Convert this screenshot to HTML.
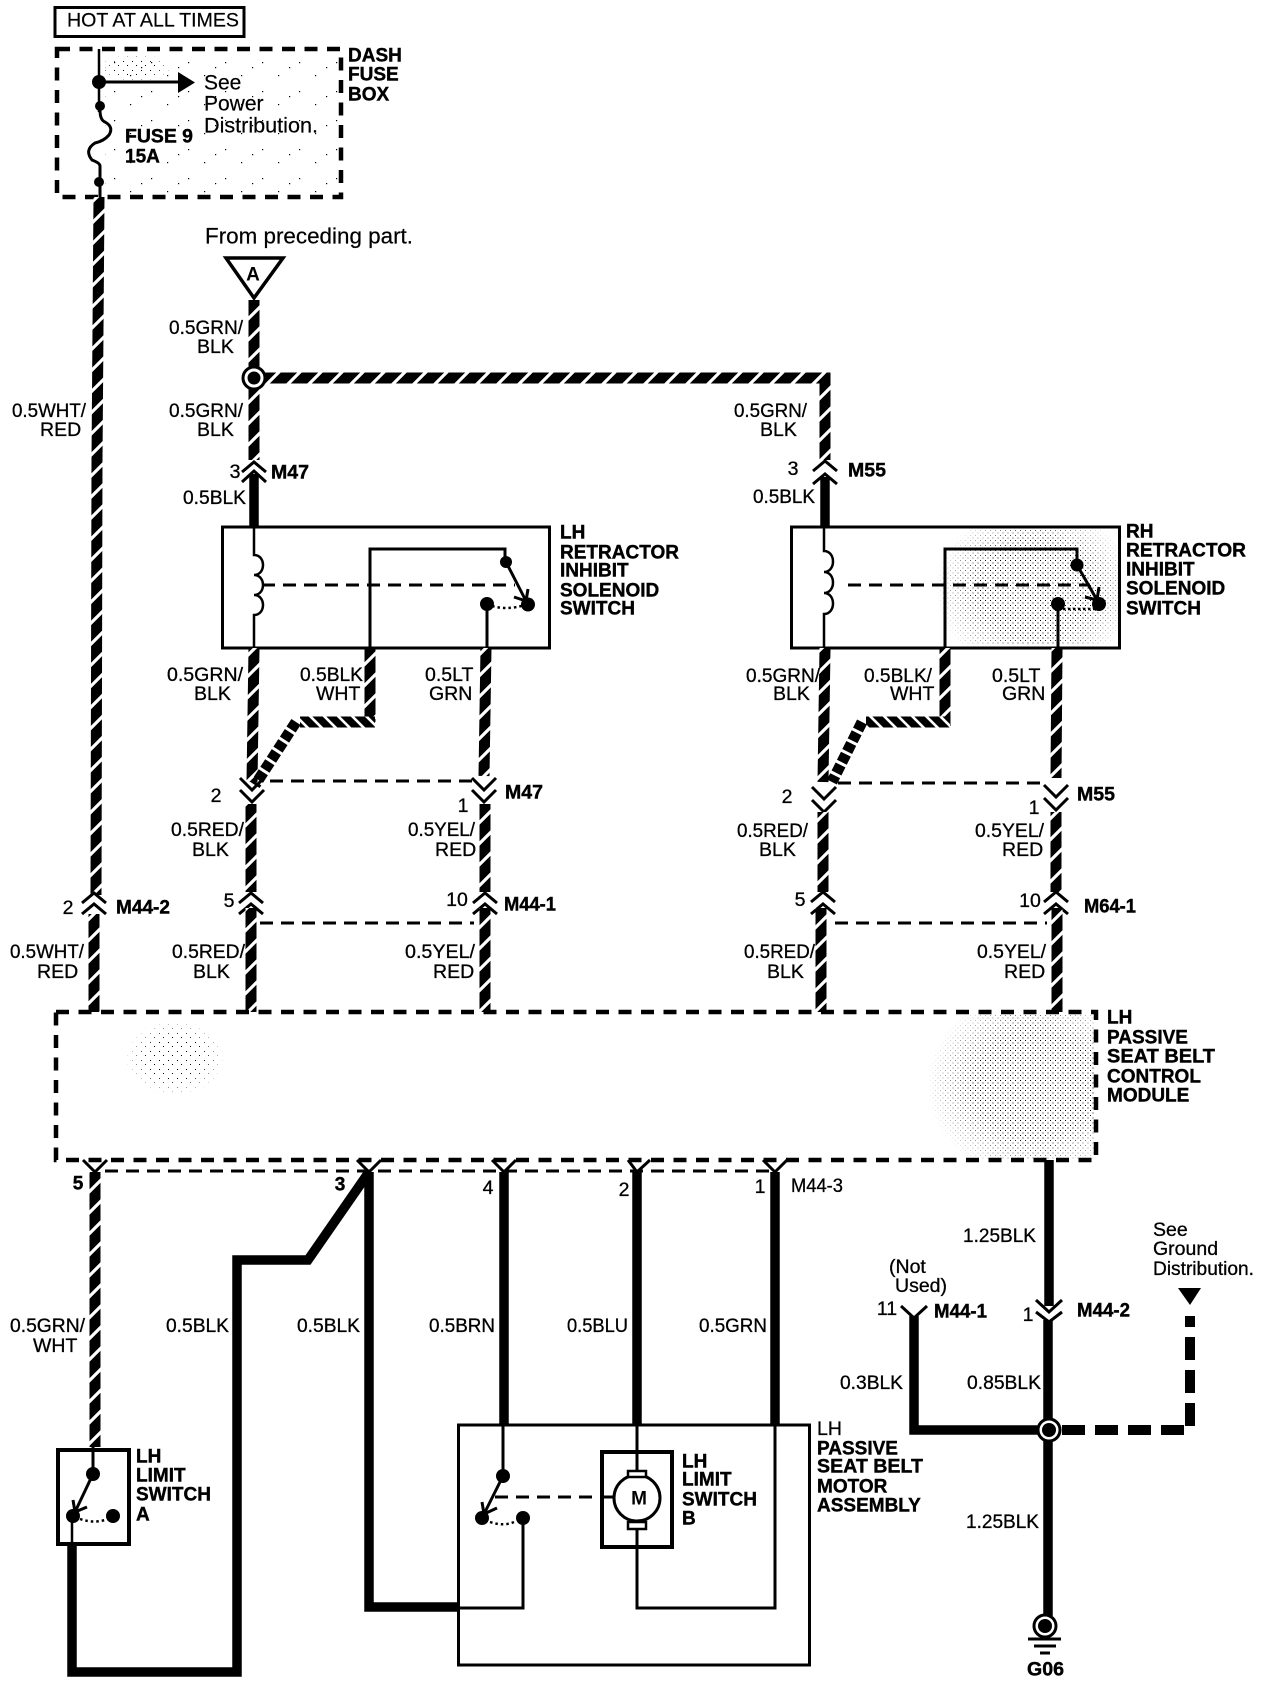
<!DOCTYPE html>
<html><head><meta charset="utf-8"><title>Wiring diagram</title>
<style>
html,body{margin:0;padding:0;background:#fff}
svg{display:block}
text{font-family:"Liberation Sans",sans-serif;dominant-baseline:central;fill:#000}
.n{font-size:19.5px;stroke:#000;stroke-width:.3}
.b{font-size:19px;font-weight:bold;stroke:#000;stroke-width:.4}
.t{font-size:21px;stroke:#000;stroke-width:.2}
.w{fill:none;stroke:#000;stroke-width:3}
.th{fill:none;stroke:#000;stroke-width:2.5}
.tw{fill:none;stroke:url(#tw);stroke-width:11}
.tw2{fill:none;stroke:url(#tw2);stroke-width:11}
.s{fill:none;stroke:#000;stroke-width:9.5}
.c{fill:none;stroke:#000;stroke-width:3}
.d{fill:none;stroke:#000;stroke-width:3;stroke-dasharray:13 8}
.bd{fill:none;stroke:#000;stroke-width:4.5;stroke-dasharray:13 9.5}
</style></head><body>
<svg width="1280" height="1684" viewBox="0 0 1280 1684" xmlns="http://www.w3.org/2000/svg">
<defs>
<pattern id="tw" width="21" height="21" patternUnits="userSpaceOnUse">
<rect width="21" height="21" fill="#000"/>
<path d="M-5 26L26 -5M-5 5L5 -5M16 26L26 16" stroke="#fff" stroke-width="3.2"/>
</pattern>
<pattern id="tw2" width="14" height="14" patternUnits="userSpaceOnUse">
<rect width="14" height="14" fill="#000"/>
<path d="M-4 -4L18 18M-4 10L4 18M10 -4L18 4" stroke="#fff" stroke-width="2.6"/>
</pattern>
<pattern id="st" width="5" height="5" patternUnits="userSpaceOnUse">
<rect x="0" y="0" width="1" height="1" fill="#000"/><rect x="2.500" y="2.500" width="1" height="1" fill="#000"/>
</pattern>
<pattern id="st2" width="37" height="29" patternUnits="userSpaceOnUse">
<rect x="3" y="4" width="1.200" height="1.200" fill="#000"/><rect x="19" y="17" width="1.200" height="1.200" fill="#000"/><rect x="30" y="9" width="1.200" height="1.200" fill="#000"/>
</pattern>
<pattern id="st3" width="9" height="9" patternUnits="userSpaceOnUse">
<rect x="1" y="2" width="1" height="1" fill="#000"/><rect x="6" y="7" width="1" height="1" fill="#000"/>
</pattern>
<radialGradient id="fade"><stop offset="0" stop-color="#fff"/><stop offset=".55" stop-color="#fff"/><stop offset="1" stop-color="#000"/></radialGradient>
<mask id="m1" maskUnits="userSpaceOnUse" x="0" y="0" width="1280" height="1684">
<ellipse cx="1035" cy="1085" rx="108" ry="95" fill="url(#fade)"/>
<ellipse cx="1035" cy="590" rx="100" ry="85" fill="url(#fade)"/>
<ellipse cx="175" cy="1058" rx="50" ry="38" fill="url(#fade)"/>
<ellipse cx="135" cy="68" rx="38" ry="14" fill="url(#fade)"/>
</mask>
</defs>
<rect width="1280" height="1684" fill="#fff"/>

<!-- stipple -->
<rect x="930" y="1014" width="165" height="145" fill="url(#st)" mask="url(#m1)"/>
<rect x="930" y="528" width="188" height="117" fill="url(#st)" mask="url(#m1)"/>
<rect x="125" y="1020" width="100" height="75" fill="url(#st3)" mask="url(#m1)"/>
<rect x="105" y="55" width="235" height="140" fill="url(#st2)"/>
<rect x="100" y="55" width="70" height="25" fill="url(#st3)" mask="url(#m1)"/>

<!-- hot box -->
<rect x="55" y="7.5" width="189" height="29" class="w"/>
<text x="67" y="21" font-size="19" textLength="172" lengthAdjust="spacingAndGlyphs" stroke="#000" stroke-width=".2">HOT AT ALL TIMES</text>

<!-- dash fuse box -->
<path d="M57 49H341V197H57Z" class="bd"/>
<path d="M99 49V112" class="th" stroke-width="3"/>
<circle cx="99" cy="82" r="7"/><circle cx="100" cy="106" r="5"/><circle cx="99" cy="182" r="5"/>
<path d="M99 82H180" class="w"/><path d="M178 72L195 82.5L178 93Z"/>
<path d="M100 110Q100 120 105 122Q114 127 109 135Q104 141 95 143Q84 150 92 160Q100 163 100 166V197" class="w"/>
<text x="204" y="83" class="t">See</text><text x="204" y="104" class="t">Power</text>
<text x="204" y="126" class="t" textLength="114" lengthAdjust="spacingAndGlyphs">Distribution.</text>
<text x="125" y="137" class="b" textLength="68" lengthAdjust="spacingAndGlyphs">FUSE 9</text><text x="125" y="157" class="b">15A</text>
<text x="348" y="56" class="b">DASH</text><text x="348" y="75" class="b">FUSE</text><text x="348" y="95" class="b">BOX</text>

<!-- left main wire -->
<path d="M99 197L97 460L96 895" class="tw"/>
<path d="M94 914V1012" class="tw"/>
<path d="M95 1172V1447" class="tw"/>

<!-- from preceding -->
<text x="205" y="236" font-size="22" textLength="208" lengthAdjust="spacingAndGlyphs" stroke="#000" stroke-width=".2">From preceding part.</text>
<path d="M226 258H283L254 298Z" fill="#fff" stroke="#000" stroke-width="3.5"/>
<text x="253" y="275" text-anchor="middle" font-size="19" font-weight="bold">A</text>
<path d="M254 300V460" class="tw"/>
<path d="M265 378H825V460" class="tw"/>
<circle cx="254" cy="378" r="11" fill="#fff" stroke="#000" stroke-width="3"/><circle cx="254" cy="378" r="6.5"/>

<!-- labels upper -->
<text x="169" y="328" class="n" textLength="74" lengthAdjust="spacingAndGlyphs">0.5GRN/</text><text x="197" y="347" class="n">BLK</text>
<text x="169" y="411" class="n" textLength="74" lengthAdjust="spacingAndGlyphs">0.5GRN/</text><text x="197" y="430" class="n">BLK</text>
<text x="183" y="498" class="n" textLength="63" lengthAdjust="spacingAndGlyphs">0.5BLK</text>
<text x="12" y="411" class="n" textLength="74" lengthAdjust="spacingAndGlyphs">0.5WHT/</text><text x="40" y="430" class="n">RED</text>
<text x="734" y="411" class="n" textLength="73" lengthAdjust="spacingAndGlyphs">0.5GRN/</text><text x="760" y="430" class="n">BLK</text>
<text x="753" y="497" class="n" textLength="62" lengthAdjust="spacingAndGlyphs">0.5BLK</text>

<!-- M47 / M55 top connectors -->
<path d="M242 472L254 462L266 472M242 482L254 471L266 482" class="c"/>
<path d="M254 474V527" class="s" stroke-width="11"/>
<path d="M813 471L825 461L837 471M813 484L825 474L837 484" class="c"/>
<path d="M825 477V527" class="s" stroke-width="11"/>
<text x="235" y="472" class="n" text-anchor="middle">3</text><text x="271" y="473" class="b" font-size="17" textLength="38" lengthAdjust="spacingAndGlyphs">M47</text>
<text x="793" y="469" class="n" text-anchor="middle">3</text><text x="848" y="471" class="b" font-size="17" textLength="38" lengthAdjust="spacingAndGlyphs">M55</text>

<!-- LH switch -->
<rect x="222.500" y="527" width="327" height="121" class="w" stroke-width="3.500"/>
<path d="M254 527V555c12 0 12 20 0 20c12 0 12 20 0 20c12 0 12 20 0 20V648" class="th"/>
<path d="M262 585H515" class="d"/>
<path d="M370 648V549H505V562" class="w"/>
<circle cx="506" cy="562" r="6"/><circle cx="528" cy="604.500" r="7"/><circle cx="487" cy="604" r="7"/>
<path d="M506 562L526 601M526 601L528 589M526 601L514 597" class="w"/>
<path d="M487 604Q505 612 528 604" fill="none" stroke="#000" stroke-width="2.500" stroke-dasharray="2.500 3"/>
<path d="M487 604V648" class="w"/>
<text x="560" y="533" class="b">LH</text><text x="560" y="553" class="b" textLength="119" lengthAdjust="spacingAndGlyphs">RETRACTOR</text><text x="560" y="571" class="b">INHIBIT</text><text x="560" y="591" class="b">SOLENOID</text><text x="560" y="609" class="b">SWITCH</text>

<!-- LH wires -->
<path d="M254 648L252 782" class="tw"/>
<path d="M370 648V722" class="tw"/>
<path d="M375 722H300" class="tw2"/>
<path d="M296 722L255 785" fill="none" stroke="#000" stroke-width="11" stroke-dasharray="9 3"/>
<path d="M486 648L484 776" class="tw"/>
<path d="M270 781H472" class="d"/>
<path d="M240 778L252 790L264 778M240 790L252 802L264 790" class="c"/>
<path d="M472 778L484 790L496 778M472 790L484 802L496 790" class="c"/>
<path d="M251 804V892" class="tw"/><path d="M485 804V892" class="tw"/>
<path d="M239 903L251 893L263 903M239 914L251 904L263 914" class="c"/>
<path d="M473 903L485 893L497 903M473 914L485 904L497 914" class="c"/>
<path d="M82 903L94 893L106 903M82 914L94 904L106 914" class="c"/>
<path d="M251 908V1012" class="tw"/><path d="M485 908V1012" class="tw"/>
<path d="M260 923H474" class="d"/>

<!-- LH lower labels -->
<text x="167" y="675" class="n" textLength="76" lengthAdjust="spacingAndGlyphs">0.5GRN/</text><text x="194" y="694" class="n">BLK</text>
<text x="300" y="675" class="n" textLength="63" lengthAdjust="spacingAndGlyphs">0.5BLK</text><text x="316" y="694" class="n">WHT</text>
<text x="425" y="675" class="n">0.5LT</text><text x="429" y="694" class="n">GRN</text>
<text x="216" y="796" class="n" text-anchor="middle">2</text><text x="505" y="793" class="b" font-size="17" textLength="38" lengthAdjust="spacingAndGlyphs">M47</text>
<text x="463" y="806" class="n" text-anchor="middle">1</text>
<text x="171" y="830" class="n" textLength="73" lengthAdjust="spacingAndGlyphs">0.5RED/</text><text x="192" y="850" class="n">BLK</text>
<text x="408" y="830" class="n" textLength="67" lengthAdjust="spacingAndGlyphs">0.5YEL/</text><text x="435" y="850" class="n">RED</text>
<text x="68" y="908" class="n" text-anchor="middle">2</text><text x="116" y="908" class="b" font-size="17" textLength="54" lengthAdjust="spacingAndGlyphs">M44-2</text>
<text x="229" y="901" class="n" text-anchor="middle">5</text><text x="457" y="900" class="n" text-anchor="middle">10</text>
<text x="504" y="905" class="b" font-size="17" textLength="52" lengthAdjust="spacingAndGlyphs">M44-1</text>
<text x="10" y="952" class="n" textLength="74" lengthAdjust="spacingAndGlyphs">0.5WHT/</text><text x="37" y="972" class="n">RED</text>
<text x="172" y="952" class="n" textLength="73" lengthAdjust="spacingAndGlyphs">0.5RED/</text><text x="193" y="972" class="n">BLK</text>
<text x="405" y="952" class="n" textLength="70" lengthAdjust="spacingAndGlyphs">0.5YEL/</text><text x="433" y="972" class="n">RED</text>

<!-- RH switch -->
<rect x="791.500" y="527" width="328" height="121" class="w" stroke-width="3.500"/>
<path d="M824 527V551c12 0 12 21 0 21c12 0 12 21 0 21c12 0 12 21 0 21V648" class="th"/>
<path d="M848 585H1090" class="d"/>
<path d="M945 648V549H1077V565" class="w"/>
<circle cx="1077" cy="565" r="6.500"/><circle cx="1099" cy="604" r="7"/><circle cx="1058" cy="604" r="7"/>
<path d="M1077 565L1097 600M1097 600L1099 587M1097 600L1085 597" class="w"/>
<path d="M1058 609H1099" fill="none" stroke="#000" stroke-width="2.500" stroke-dasharray="2.500 2.500"/>
<path d="M1058 604V648" class="w" stroke-width="3.500"/>
<text x="1126" y="532" class="b">RH</text><text x="1126" y="551" class="b" textLength="120" lengthAdjust="spacingAndGlyphs">RETRACTOR</text><text x="1126" y="570" class="b">INHIBIT</text><text x="1126" y="589" class="b">SOLENOID</text><text x="1126" y="609" class="b">SWITCH</text>

<!-- RH wires -->
<path d="M825 648L823 782" class="tw"/>
<path d="M945 648V726" class="tw"/>
<path d="M950 722H866" class="tw2"/>
<path d="M862 722L832 782" fill="none" stroke="#000" stroke-width="11" stroke-dasharray="9 3"/>
<path d="M1057 648L1056 778" class="tw"/>
<path d="M838 783H1045" class="d"/>
<path d="M812 787L824 799L836 787M812 800L824 812L836 800" class="c"/>
<path d="M1044 785L1056 797L1068 785M1044 798L1056 810L1068 798" class="c"/>
<path d="M823 812V892" class="tw"/><path d="M1056 812V892" class="tw"/>
<path d="M811 902L823 892L835 902M811 914L823 904L835 914" class="c"/>
<path d="M1044 902L1056 892L1068 902M1044 914L1056 904L1068 914" class="c"/>
<path d="M821 908V1012" class="tw"/><path d="M1057 908V1012" class="tw"/>
<path d="M835 923H1047" class="d"/>

<text x="746" y="676" class="n" textLength="74" lengthAdjust="spacingAndGlyphs">0.5GRN/</text><text x="773" y="694" class="n">BLK</text>
<text x="864" y="676" class="n" textLength="68" lengthAdjust="spacingAndGlyphs">0.5BLK/</text><text x="890" y="694" class="n">WHT</text>
<text x="992" y="676" class="n">0.5LT</text><text x="1002" y="694" class="n">GRN</text>
<text x="787" y="797" class="n" text-anchor="middle">2</text><text x="1077" y="795" class="b" font-size="17" textLength="38" lengthAdjust="spacingAndGlyphs">M55</text>
<text x="1034" y="808" class="n" text-anchor="middle">1</text>
<text x="737" y="831" class="n" textLength="71" lengthAdjust="spacingAndGlyphs">0.5RED/</text><text x="759" y="850" class="n">BLK</text>
<text x="975" y="831" class="n" textLength="69" lengthAdjust="spacingAndGlyphs">0.5YEL/</text><text x="1002" y="850" class="n">RED</text>
<text x="800" y="900" class="n" text-anchor="middle">5</text><text x="1030" y="901" class="n" text-anchor="middle">10</text>
<text x="1084" y="907" class="b" font-size="17" textLength="52" lengthAdjust="spacingAndGlyphs">M64-1</text>
<text x="744" y="952" class="n" textLength="71" lengthAdjust="spacingAndGlyphs">0.5RED/</text><text x="767" y="972" class="n">BLK</text>
<text x="977" y="952" class="n" textLength="69" lengthAdjust="spacingAndGlyphs">0.5YEL/</text><text x="1004" y="972" class="n">RED</text>

<!-- control module -->
<path d="M56 1012H1096V1160H56Z" class="bd"/>
<text x="1107" y="1018" class="b">LH</text><text x="1107" y="1038" class="b">PASSIVE</text><text x="1107" y="1057" class="b" textLength="108" lengthAdjust="spacingAndGlyphs">SEAT BELT</text><text x="1107" y="1077" class="b">CONTROL</text><text x="1107" y="1096" class="b">MODULE</text>
<path d="M105 1171H775" class="d" stroke-dasharray="13 9" stroke-width="2.500"/>

<!-- bottom connectors -->
<path d="M83 1160L95 1172L107 1160" class="c"/>
<path d="M357 1160L369 1172L381 1160" class="c"/>
<path d="M492 1160L504 1172L516 1160" class="c"/>
<path d="M628 1160L637 1172L650 1160" class="c"/>
<path d="M763 1160L775 1172L787 1160" class="c"/>
<text x="78" y="1184" class="b" text-anchor="middle">5</text>
<text x="340" y="1185" class="b" text-anchor="middle">3</text>
<text x="488" y="1188" class="n" text-anchor="middle">4</text>
<text x="624" y="1190" class="n" text-anchor="middle">2</text>
<text x="760" y="1187" class="n" text-anchor="middle">1</text>
<text x="791" y="1186" class="n" font-size="18" textLength="52" lengthAdjust="spacingAndGlyphs">M44-3</text>

<!-- solid wires -->
<path d="M369 1172V1607H458" class="s"/>
<path d="M369 1172L308 1260H237V1672H72V1544" class="s"/>
<path d="M504 1172V1426" class="s"/>
<path d="M637 1172V1426" class="s"/>
<path d="M775 1172V1426" class="s"/>

<text x="10" y="1326" class="n" textLength="75" lengthAdjust="spacingAndGlyphs">0.5GRN/</text><text x="33" y="1346" class="n">WHT</text>
<text x="166" y="1326" class="n" textLength="63" lengthAdjust="spacingAndGlyphs">0.5BLK</text>
<text x="297" y="1326" class="n" textLength="63" lengthAdjust="spacingAndGlyphs">0.5BLK</text>
<text x="429" y="1326" class="n" textLength="66" lengthAdjust="spacingAndGlyphs">0.5BRN</text>
<text x="567" y="1326" class="n" textLength="61" lengthAdjust="spacingAndGlyphs">0.5BLU</text>
<text x="699" y="1326" class="n" textLength="68" lengthAdjust="spacingAndGlyphs">0.5GRN</text>

<!-- limit switch A -->
<rect x="58" y="1450" width="71" height="94" fill="none" stroke="#000" stroke-width="4"/>
<path d="M93 1447V1474" class="w" stroke-width="4"/>
<circle cx="93" cy="1474" r="7"/><circle cx="73" cy="1516" r="7"/><circle cx="113" cy="1516" r="7"/>
<path d="M93 1474L75 1512M75 1512L73 1500M75 1512L87 1507" class="w"/>
<path d="M80 1519Q95 1524 108 1519" fill="none" stroke="#000" stroke-width="2.500" stroke-dasharray="2.500 3"/>
<path d="M72 1516V1544" class="th"/>
<text x="136" y="1457" class="b">LH</text><text x="136" y="1476" class="b">LIMIT</text><text x="136" y="1495" class="b">SWITCH</text><text x="136" y="1515" class="b">A</text>

<!-- motor assembly -->
<rect x="458.500" y="1425" width="351" height="240" class="w"/>
<path d="M503 1425V1476" class="w"/>
<circle cx="503" cy="1476" r="7"/><circle cx="482" cy="1518" r="7"/><circle cx="523" cy="1518" r="7"/>
<path d="M503 1476L484 1514M484 1514L482 1502M484 1514L497 1508" class="w"/>
<path d="M490 1522Q505 1527 516 1521" fill="none" stroke="#000" stroke-width="2.500" stroke-dasharray="2.500 3"/>
<path d="M523 1518V1608H457" class="w"/>
<path d="M495 1497H598" class="d"/>
<rect x="602" y="1452" width="70" height="95" fill="#fff" stroke="#000" stroke-width="4"/>
<path d="M637 1425V1472M637 1525V1608H775V1425" class="w"/>
<circle cx="637" cy="1498" r="23" fill="#fff" stroke="#000" stroke-width="3"/>
<path d="M602 1497H614" class="w"/>
<rect x="628" y="1471" width="18" height="6" fill="#fff" stroke="#000" stroke-width="2.500"/>
<rect x="628" y="1522" width="18" height="7" fill="#fff" stroke="#000" stroke-width="2.500"/>
<text x="639" y="1499" text-anchor="middle" font-size="19" font-weight="bold">M</text>
<text x="682" y="1462" class="b">LH</text><text x="682" y="1480" class="b">LIMIT</text><text x="682" y="1500" class="b">SWITCH</text><text x="682" y="1519" class="b">B</text>
<text x="817" y="1429" class="n" font-size="19">LH</text><text x="817" y="1449" class="b">PASSIVE</text><text x="817" y="1467" class="b" textLength="106" lengthAdjust="spacingAndGlyphs">SEAT BELT</text><text x="817" y="1487" class="b">MOTOR</text><text x="817" y="1506" class="b">ASSEMBLY</text>

<!-- ground section -->
<path d="M1049 1160V1306" class="s" stroke-width="10"/>
<path d="M1036 1300L1049 1312L1062 1300M1036 1312L1049 1322L1062 1312" class="c"/>
<path d="M1048 1320V1616" class="s" stroke-width="10"/>
<path d="M914 1316V1430H1048" class="s" stroke-width="10"/>
<path d="M901 1306L914 1318L927 1306" class="c"/>
<path d="M1062 1430H1190V1316" fill="none" stroke="#000" stroke-width="10" stroke-dasharray="23 10"/>
<circle cx="1049" cy="1430" r="11" fill="#fff" stroke="#000" stroke-width="3"/><circle cx="1049" cy="1430" r="7"/>
<path d="M1178 1288H1201L1190 1305Z"/>
<circle cx="1045" cy="1626" r="11" fill="#fff" stroke="#000" stroke-width="3"/><circle cx="1045" cy="1626" r="7"/>
<path d="M1028 1639H1061M1034 1646H1056M1040 1653H1050" class="c"/>
<text x="1027" y="1670" class="b" textLength="37" lengthAdjust="spacingAndGlyphs">G06</text>
<text x="1153" y="1230" class="n">See</text><text x="1153" y="1249" class="n">Ground</text><text x="1153" y="1269" class="n" textLength="101" lengthAdjust="spacingAndGlyphs">Distribution.</text>
<text x="889" y="1267" class="n">(Not</text><text x="895" y="1286" class="n">Used)</text>
<text x="887" y="1309" class="n" text-anchor="middle">11</text>
<text x="934" y="1312" class="b" font-size="17" textLength="53" lengthAdjust="spacingAndGlyphs">M44-1</text>
<text x="1028" y="1315" class="n" text-anchor="middle">1</text>
<text x="1077" y="1311" class="b" font-size="17" textLength="53" lengthAdjust="spacingAndGlyphs">M44-2</text>
<text x="963" y="1236" class="n" textLength="73" lengthAdjust="spacingAndGlyphs">1.25BLK</text>
<text x="840" y="1383" class="n" textLength="63" lengthAdjust="spacingAndGlyphs">0.3BLK</text>
<text x="967" y="1383" class="n" textLength="74" lengthAdjust="spacingAndGlyphs">0.85BLK</text>
<text x="966" y="1522" class="n" textLength="73" lengthAdjust="spacingAndGlyphs">1.25BLK</text>
</svg>
</body></html>
